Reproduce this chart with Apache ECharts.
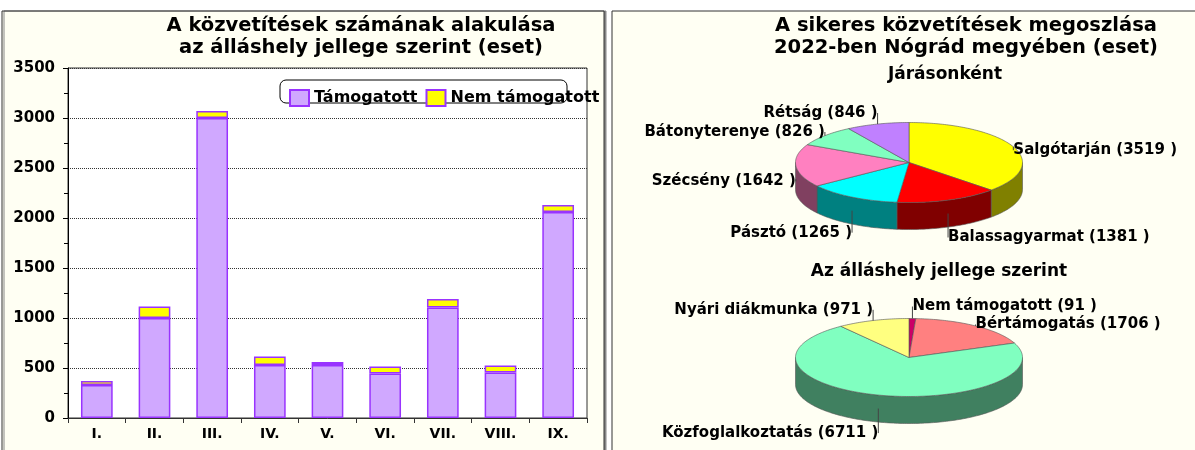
<!DOCTYPE html>
<html>
<head>
<meta charset="utf-8">
<title>Közvetítések</title>
<script src="https://cdn.jsdelivr.net/npm/echarts@6/dist/echarts.min.js"></script>
<style>
  html, body { margin: 0; padding: 0; background: #fff; }
  #chart { width: 1195px; height: 450px; }
</style>
</head>
<body>
<div id="chart"></div>
<script>
// bar chart: placements by month, split by support
const months = ['I.', 'II.', 'III.', 'IV.', 'V.', 'VI.', 'VII.', 'VIII.', 'IX.']
const supported = [330, 1000, 3000, 530, 530, 445, 1105, 455, 2060]
const unsupported = [40, 115, 70, 85, 30, 70, 85, 70, 70]

// pies: successful placements in 2022
const districts = ['Salgótarján', 'Balassagyarmat', 'Pásztó', 'Szécsény', 'Bátonyterenye', 'Rétság']
const districtCases = [3519, 1381, 1265, 1642, 826, 846]
const jobTypes = ['Nem támogatott', 'Bértámogatás', 'Közfoglalkoztatás', 'Nyári diákmunka']
const jobTypeCases = [91, 1706, 6711, 971]

const FONT = '"DejaVu Sans", sans-serif'

// elliptical "3D" pie drawn with a custom series, one slice per data item
function pie3d(names, values, tops, sides, c) {
  const total = values.reduce((a, b) => a + b, 0)
  const starts = []
  let acc = 0
  values.forEach(v => { starts.push(acc); acc += v })
  const ang = t => -Math.PI / 2 + 2 * Math.PI * t / total
  const pt = (a, dy) => [c.cx + c.rx * Math.cos(a), c.cy + c.ry * Math.sin(a) + dy]
  const arc = (a1, a2, dy) => {
    const n = Math.max(2, Math.ceil((a2 - a1) / 0.02))
    const out = []
    for (let k = 0; k <= n; k++) out.push(pt(a1 + (a2 - a1) * k / n, dy))
    return out
  }

  // label spots, then push apart labels on the same side that sit too close
  const labels = values.map((v, i) => {
    const m = (ang(starts[i]) + ang(starts[i] + v)) / 2
    const cos = Math.cos(m)
    const sin = Math.sin(m)
    return {
      i: i, m: m, sin: sin,
      right: cos >= 0,
      x: c.cx + c.rx * cos,
      y: c.cy + c.depth / 2 + (c.ry + c.depth / 2 + 12) * sin
    }
  })
  ;[true, false].forEach(side => {
    const group = labels.filter(l => l.right === side).sort((a, b) => a.y - b.y)
    for (let k = 1; k < group.length; k++) {
      if (group[k].y - group[k - 1].y < 18) group[k].y = group[k - 1].y + 18
    }
  })

  return function (params, api) {
    const i = params.dataIndex
    const a1 = ang(starts[i])
    const a2 = ang(starts[i] + values[i])
    const children = []
    const b1 = Math.max(a1, 0)
    const b2 = Math.min(a2, Math.PI)
    if (b2 > b1) {
      children.push({
        type: 'polygon',
        shape: { points: arc(b1, b2, 0).concat(arc(b1, b2, c.depth).reverse()) },
        style: { fill: sides[i], stroke: '#555', lineWidth: 0.6 }
      })
    }
    children.push({
      type: 'polygon',
      shape: { points: [[c.cx, c.cy]].concat(arc(a1, a2, 0)) },
      style: { fill: tops[i], stroke: '#555', lineWidth: 0.6 }
    })
    const lab = labels[i]
    const e = pt(lab.m, lab.sin > 0 ? c.depth / 2 : 0)
    children.push({
      type: 'line', z2: 5,
      shape: { x1: e[0], y1: e[1], x2: lab.x, y2: lab.y },
      style: { stroke: '#444', lineWidth: 1 }
    })
    children.push({
      type: 'text', z2: 10,
      style: {
        text: names[i] + ' (' + values[i] + ' )',
        x: lab.x, y: lab.y,
        align: lab.right ? 'left' : 'right',
        verticalAlign: 'middle',
        font: 'bold 15px ' + FONT,
        fill: '#000'
      }
    })
    return { type: 'group', children: children }
  }
}

function title(text, x, y, size) {
  return {
    type: 'text', x: x, y: y, z: 10,
    style: { text: text, align: 'center', verticalAlign: 'middle', font: 'bold ' + size + 'px ' + FONT, fill: '#000' }
  }
}

const chart = echarts.init(document.getElementById('chart'))
const option = {
  animation: false,
  backgroundColor: '#fff',
  graphic: [
    { type: 'rect', z: -10, shape: { x: 2, y: 11, width: 602, height: 450 },
      style: { fill: '#FFFFF3', stroke: '#333', lineWidth: 1, shadowColor: '#888', shadowOffsetX: 2, shadowBlur: 0 } },
    { type: 'rect', z: -10, shape: { x: 612, y: 11, width: 600, height: 450 },
      style: { fill: '#FFFFF3', stroke: '#333', lineWidth: 1 } },
    { type: 'rect', z: 3, shape: { x: 280, y: 80, width: 287, height: 23, r: 6 },
      style: { fill: '#fff', stroke: '#000', lineWidth: 1 } },
    title('A közvetítések számának alakulása', 361, 26, 19.5),
    title('az álláshely jellege szerint (eset)', 361, 48, 19.5),
    title('A sikeres közvetítések megoszlása', 966, 26, 19.5),
    title('2022-ben Nógrád megyében (eset)', 966, 48, 19.5),
    title('Járásonként', 945, 75, 17),
    title('Az álláshely jellege szerint', 939, 272, 17)
  ],
  legend: {
    data: ['Támogatott', 'Nem támogatott'],
    left: 284, top: 84,
    icon: 'rect',
    itemWidth: 19, itemHeight: 16, itemGap: 8,
    textStyle: { fontFamily: FONT, fontWeight: 'bold', fontSize: 16, color: '#000' }
  },
  grid: {
    left: 68, right: 608, top: 68, bottom: 32,
    show: true, backgroundColor: '#fff', borderColor: '#333', borderWidth: 1
  },
  xAxis: {
    type: 'category',
    data: months,
    axisLine: { lineStyle: { color: '#333' } },
    axisTick: { show: true, length: 5, interval: 0, lineStyle: { color: '#333' } },
    axisLabel: { margin: 9, color: '#000', fontFamily: FONT, fontWeight: 'bold', fontSize: 14 }
  },
  yAxis: {
    type: 'value',
    min: 0, max: 3500, interval: 500,
    axisLine: { show: true, lineStyle: { color: '#000' } },
    axisTick: { show: true, length: 5, lineStyle: { color: '#000' } },
    minorTick: { show: true, splitNumber: 2, length: 4, lineStyle: { color: '#000' } },
    splitLine: { lineStyle: { color: '#333', type: 'dotted' } },
    axisLabel: {
      margin: 13, color: '#000', fontFamily: FONT, fontWeight: 'bold', fontSize: 15,
      formatter: v => String(v)
    }
  },
  series: [
    {
      name: 'Támogatott', type: 'bar', stack: 'total', barWidth: '55%',
      data: supported,
      itemStyle: { color: '#D0A8FF', borderColor: '#9933FF', borderWidth: 1.5 }
    },
    {
      name: 'Nem támogatott', type: 'bar', stack: 'total', barWidth: '55%',
      data: unsupported,
      itemStyle: { color: '#FFFF00', borderColor: '#9933FF', borderWidth: 1.5 }
    },
    {
      type: 'custom', coordinateSystem: 'none', silent: true,
      data: districtCases,
      renderItem: pie3d(districts, districtCases,
        ['#FFFF00', '#FF0000', '#00FFFF', '#FF80C0', '#80FFC0', '#C080FF'],
        ['#808000', '#800000', '#008080', '#804060', '#408060', '#604080'],
        { cx: 909, cy: 162.5, rx: 113.5, ry: 40, depth: 27 })
    },
    {
      type: 'custom', coordinateSystem: 'none', silent: true,
      data: jobTypeCases,
      renderItem: pie3d(jobTypes, jobTypeCases,
        ['#CC0066', '#FF8080', '#80FFC0', '#FFFF80'],
        ['#660033', '#804040', '#408060', '#808040'],
        { cx: 909, cy: 357.5, rx: 113.5, ry: 39, depth: 27 })
    }
  ]
}
chart.setOption(option)
</script>
</body>
</html>
